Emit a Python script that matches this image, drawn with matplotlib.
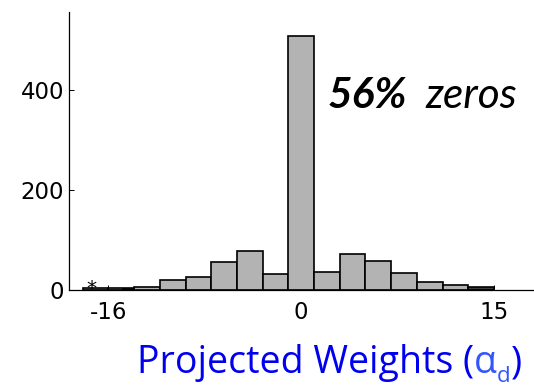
import matplotlib.pyplot as plt

# histogram of projected weights (bins of width 2)
bin_centers = [-16, -14, -12, -10, -8, -6, -4, -2, 0, 2, 4, 6, 8, 10, 12, 14]
counts      = [4, 3, 5, 20, 25, 55, 77, 31, 508, 35, 72, 57, 33, 15, 9, 5]
bar_width   = 2

# thin dark overlay bar in the left tail
dark_centers = [-13.43]
dark_counts  = [2]
dark_widths  = [0.83]

xtick_pos    = [-15, 0, 15]
xtick_labels = ["-16", "0", "15"]
ytick_pos    = [0, 200, 400]

BLUE = "#0000f0"
LABEL_FONT = ["Open Sans", "DejaVu Sans"]
NOTE_FONT = ["Lato", "DejaVu Sans"]
W, H = 534, 390

fig = plt.figure(figsize=(W / 100, H / 100), dpi=100)
ax = fig.add_axes([69.3 / W, 100 / H, 1 - 69.3 / W, 277.7 / H])

faces = ["#b3b3b3"] * len(counts)
faces[-1] = "#3c3c3c"
ax.bar(bin_centers, counts, width=bar_width, color=faces,
       edgecolor="black", linewidth=1.2, zorder=2)
ax.bar(dark_centers, dark_counts, width=dark_widths, color="#202020",
       edgecolor="black", linewidth=1.2, zorder=3)

ax.text(bin_centers[0] - 0.35, -7, "*", ha="center", va="baseline",
        fontsize=14.5, family="DejaVu Sans")

ax.set_xlim(-18.05, 18.12)
ax.set_ylim(0, 555)
ax.set_xticks(xtick_pos)
ax.set_xticklabels(xtick_labels)
ax.set_yticks(ytick_pos)
ax.tick_params(direction="in", length=3.4, width=0.7, labelsize=16.5)
ax.tick_params(axis="x", pad=7.9)
ax.tick_params(axis="y", pad=3.8)
for lbl in ax.get_xticklabels() + ax.get_yticklabels():
    lbl.set_family("DejaVu Sans")
ax.spines["top"].set_visible(False)
ax.spines["right"].set_visible(False)
for s in ("left", "bottom"):
    ax.spines[s].set_linewidth(0.9)

# annotation: "56% zeros"
ann_y = (H - 107.7) / H
fig.text(327.5 / W, ann_y, "56%", family=NOTE_FONT, weight="bold",
         style="italic", fontsize=30.5, va="baseline")
fig.text(425 / W, ann_y, "zeros", family=NOTE_FONT, style="italic",
         fontsize=30.5, va="baseline")

# x label with coloured alpha and subscript
base_y = (H - 373.3) / H
t_lab = fig.text(137 / W, base_y, "Projected Weights (", family=LABEL_FONT,
                 fontsize=27, color=BLUE, va="baseline")

fig.canvas.draw()
r = fig.canvas.get_renderer()
t_a = fig.text(t_lab.get_window_extent(r).x1 / W, base_y, "\u03b1",
               family=LABEL_FONT, fontsize=27, color="#3355ff", va="baseline")
fig.canvas.draw()
t_d = fig.text(t_a.get_window_extent(r).x1 / W, base_y - 9 / H, "d",
               family=LABEL_FONT, fontsize=16, color="#3355ff", va="baseline")
fig.canvas.draw()
fig.text(t_d.get_window_extent(r).x1 / W, base_y, ")",
         family=LABEL_FONT, fontsize=27, color=BLUE, va="baseline")

fig.savefig("out.png", dpi=100)
